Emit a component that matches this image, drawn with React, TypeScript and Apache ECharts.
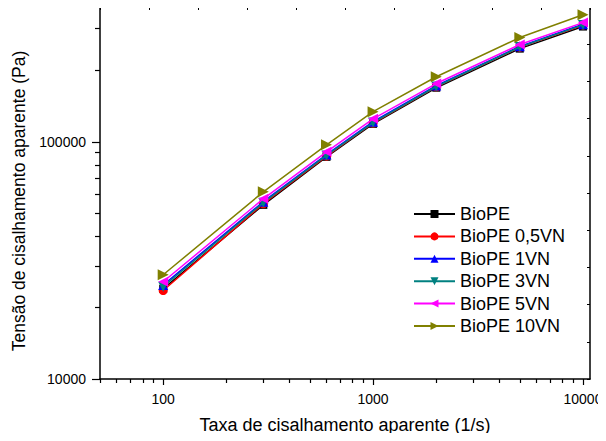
import React, { useEffect, useRef } from "react";
import * as echarts from "echarts";

const shearRates = [100, 300, 600, 1000, 2000, 5000, 10000];
const seriesNames = ["BioPE", "BioPE 0,5VN", "BioPE 1VN", "BioPE 3VN", "BioPE 5VN", "BioPE 10VN"];
const bioPE = [24000, 54200, 86400, 119000, 169000, 247000, 306000];
const bioPE05 = [23600, 54800, 87000, 120000, 170500, 250000, 310000];
const bioPE1 = [24900, 55900, 88300, 121500, 172500, 252500, 313000];
const bioPE3 = [24500, 55400, 87600, 120500, 171000, 251000, 311000];
const bioPE5 = [25700, 57500, 90700, 125000, 176000, 257000, 318000];
const bioPE10 = [27500, 61500, 97100, 134000, 188000, 275000, 343000];
const xMajorTicks = [100, 1000, 10000];
const xMinorTicks = [50, 60, 70, 80, 90, 200, 300, 400, 500, 600, 700, 800, 900, 2000, 3000, 4000, 5000, 6000, 7000, 8000, 9000];
const yMajorTicks = [10000, 100000];
const yMinorTicks = [20000, 30000, 40000, 50000, 60000, 70000, 80000, 90000, 200000, 300000];

const colors = ["#000000", "#FF0000", "#0000FF", "#008080", "#FF00FF", "#808000"];
const symbols = ["rect", "circle", "triangle", "triangle", "triangle", "triangle"];
const rotations = [0, 0, 0, 180, 90, -90];
const sizes = [8, 9, 10, 10, 10, 11];

export default function App() {
  const ref = useRef<HTMLDivElement>(null);
  useEffect(() => {
    if (!ref.current) return;
    const chart = echarts.init(ref.current, null, { renderer: "svg" });
    const all = [bioPE, bioPE05, bioPE1, bioPE3, bioPE5, bioPE10];
    const font = "Liberation Sans, Arial, sans-serif";
    const axisLine = { show: true, lineStyle: { color: "#000", width: 1.5 } };
    const plain = (v: number) => String(Math.round(v));
    chart.setOption({
      animation: false,
      backgroundColor: "#fff",
      grid: { left: 100, right: 16, top: 7, bottom: 62, containLabel: false },
      legend: {
        orient: "vertical",
        left: 413,
        top: 205,
        padding: 0,
        itemWidth: 41,
        itemHeight: 10,
        itemGap: 4.4,
        data: seriesNames,
        textStyle: { fontFamily: font, fontSize: 18, color: "#000", lineHeight: 18 },
      },
      xAxis: [
        {
          type: "log",
          min: 50,
          max: 10800,
          position: "bottom",
          axisLine,
          splitLine: { show: false },
          axisTick: { show: true, inside: false, length: 6, customValues: xMajorTicks, lineStyle: { color: "#000", width: 1.2 } },
          axisLabel: { customValues: xMajorTicks, formatter: plain, margin: 13, fontFamily: font, fontSize: 14, color: "#000" },
          name: "Taxa de cisalhamento aparente (1/s)",
          nameLocation: "middle",
          nameGap: 37,
          nameTextStyle: { fontFamily: font, fontSize: 18, color: "#000" },
        },
        {
          type: "log",
          min: 50,
          max: 10800,
          position: "bottom",
          axisLine: { show: false },
          splitLine: { show: false },
          axisTick: { show: true, inside: false, length: 4, customValues: xMinorTicks, lineStyle: { color: "#000", width: 1.2 } },
          axisLabel: { show: false },
        },
        {
          type: "value",
          min: 0,
          max: 10,
          interval: 1,
          position: "top",
          axisLine,
          splitLine: { show: false },
          axisTick: { show: true, inside: true, length: 3, lineStyle: { color: "#000", width: 1 } },
          axisLabel: { show: false },
        },
      ],
      yAxis: [
        {
          type: "log",
          min: 10000,
          max: 370000,
          position: "left",
          axisLine,
          splitLine: { show: false },
          axisTick: { show: true, inside: false, length: 8, customValues: yMajorTicks, lineStyle: { color: "#000", width: 1.2 } },
          axisLabel: { customValues: yMajorTicks, formatter: plain, margin: 14, fontFamily: font, fontSize: 14, color: "#000" },
          name: "Tensão de cisalhamento aparente (Pa)",
          nameLocation: "middle",
          nameGap: 63,
          nameTextStyle: { fontFamily: font, fontSize: 17.5, color: "#000", padding: [0, 16, 0, 0] },
        },
        {
          type: "log",
          min: 10000,
          max: 370000,
          position: "left",
          axisLine: { show: false },
          splitLine: { show: false },
          axisTick: { show: true, inside: false, length: 5, customValues: yMinorTicks, lineStyle: { color: "#000", width: 1.2 } },
          axisLabel: { show: false },
        },
        {
          type: "value",
          min: 0,
          max: 10,
          interval: 1,
          position: "right",
          axisLine,
          splitLine: { show: false },
          axisTick: { show: true, inside: true, length: 3, lineStyle: { color: "#000", width: 1 } },
          axisLabel: { show: false },
        },
      ],
      series: seriesNames.map((name, i) => ({
        name,
        type: "line",
        xAxisIndex: 0,
        yAxisIndex: 0,
        data: shearRates.map((x, j) => [x, all[i][j]]),
        symbol: symbols[i],
        symbolSize: sizes[i],
        symbolRotate: rotations[i],
        showAllSymbol: true,
        color: colors[i],
        lineStyle: { color: colors[i], width: 1.5 },
        itemStyle: { color: colors[i] },
        z: 2 + i,
      })),
    });
    return () => chart.dispose();
  }, []);
  return <div ref={ref} style={{ width: 606, height: 441, margin: -8 }} />;
}
